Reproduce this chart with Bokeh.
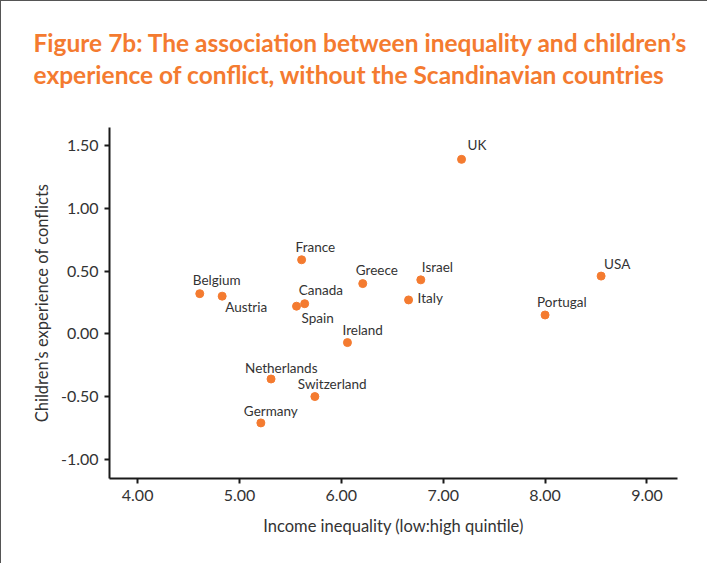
from bokeh.plotting import figure
from bokeh.models import ColumnDataSource, Range1d, FixedTicker, CustomJSTickFormatter, Title
from bokeh.core.properties import value
from bokeh.embed import file_html
from bokeh.resources import INLINE

countries = ["UK", "France", "Belgium", "Austria", "Spain", "Canada", "Greece", "Israel",
             "Italy", "Ireland", "Portugal", "USA", "Netherlands", "Switzerland", "Germany"]
inequality = [7.18, 5.61, 4.61, 4.83, 5.56, 5.64, 6.21, 6.78,
              6.66, 6.06, 8.00, 8.55, 5.31, 5.74, 5.21]
conflict = [1.39, 0.59, 0.32, 0.30, 0.22, 0.24, 0.40, 0.43,
            0.27, -0.07, 0.15, 0.46, -0.36, -0.50, -0.71]

# label placement (pixel offsets from each point)
label_dx = [6, -6, -7, 3, 5, -6, -7, 1, 9, -5, -8, 3, -26, -17, -17]
label_dy = [-14, -13, -14, 11, 12, -14, -14, -13, -2, -13, -13, -12, -11, -13, -12]

x_ticks = [4, 5, 6, 7, 8, 9]
y_ticks = [-1.0, -0.5, 0.0, 0.5, 1.0, 1.5]

title_text = ("Figure 7b: The association between inequality and children\u2019s\n"
              "experience of conflict, without the Scandinavian countries")
x_label = "Income inequality (low:high quintile)"
y_label = "Children\u2019s experience of conflicts"

ORANGE = "#F47B30"
TEXT = "#333333"
FONT = "Lato"

src = ColumnDataSource(dict(x=inequality, y=conflict, name=countries, dx=label_dx, dy=label_dy))

p = figure(width=707, height=563, output_backend="svg", toolbar_location=None, title=None,
           x_range=Range1d(3.724, 9.30), y_range=Range1d(-1.153, 1.644),
           min_border_left=108, min_border_right=31, min_border_top=126, min_border_bottom=86)

# spacer panel between frame and title
p.add_layout(Title(text=" ", text_font_size="1px", standoff=25), "above")
p.add_layout(Title(text=title_text, text_font=FONT, text_font_style="bold",
                   text_font_size="24.5px", text_color=ORANGE, align="left",
                   offset=-76, standoff=20, text_line_height=1.12), "above")

p.outline_line_color = None
p.xgrid.visible = False
p.ygrid.visible = False
p.background_fill_color = "white"
p.border_fill_color = "white"

p.scatter("x", "y", source=src, size=8, fill_color=ORANGE, line_color=ORANGE)
p.text("x", "y", text="name", source=src, x_offset="dx", y_offset="dy",
       text_font=value(FONT), text_font_size="13.5px", text_color=TEXT,
       text_align="left", text_baseline="middle")

fmt = CustomJSTickFormatter(code="return tick.toFixed(2);")
for ax, ticks in ((p.xaxis[0], x_ticks), (p.yaxis[0], y_ticks)):
    ax.ticker = FixedTicker(ticks=ticks)
    ax.formatter = fmt
    ax.axis_line_color = "#1a1a1a"
    ax.axis_line_width = 2
    ax.major_tick_line_color = "#1a1a1a"
    ax.major_tick_line_width = 2
    ax.major_tick_out = 5
    ax.major_tick_in = 0
    ax.minor_tick_line_color = None
    ax.major_label_text_font = FONT
    ax.major_label_text_font_size = "16px"
    ax.major_label_text_color = TEXT
    ax.axis_label_text_font = FONT
    ax.axis_label_text_font_size = "16.5px"
    ax.axis_label_text_font_style = "normal"
    ax.axis_label_text_color = TEXT

p.xaxis.axis_label = x_label
p.yaxis.axis_label = y_label
p.xaxis.major_label_standoff = 6
p.yaxis.major_label_standoff = 6
p.xaxis.axis_label_standoff = 12
p.yaxis.axis_label_standoff = 6

p.styles = {"border-left": "1.5px solid #555555", "border-top": "1.5px solid #555555"}

open("out.html", "w").write(file_html(p, INLINE))
